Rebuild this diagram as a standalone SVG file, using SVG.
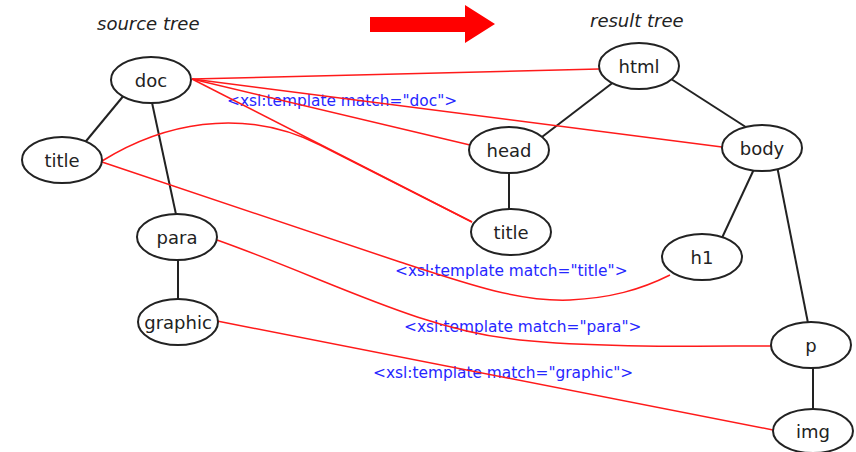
<svg xmlns="http://www.w3.org/2000/svg" width="856" height="452" viewBox="0 0 856 452">
  <style>
    .node ellipse { fill: #fff; stroke: #222; stroke-width: 2; }
    .node text { font-family: "DejaVu Sans", Verdana, sans-serif; font-size: 18px; fill: #222; text-anchor: middle; }
    .edge { stroke: #222; stroke-width: 2; fill: none; }
    .map { stroke: #ff1a1a; stroke-width: 1.5; fill: none; }
    .label { font-family: "DejaVu Sans", Verdana, sans-serif; font-size: 15.4px; fill: #2626ff; }
    .heading { font-family: "DejaVu Sans", Verdana, sans-serif; font-size: 18px; font-style: italic; fill: #222; }
  </style>
  <rect width="856" height="452" fill="#fff"/>

  <!-- headings and transform arrow -->
  <text class="heading" x="97" y="30">source tree</text>
  <text class="heading" x="590" y="27">result tree</text>
  <polygon points="370,17 465,17 465,5 495,24 465,43 465,32 370,32" fill="#f00"/>

  <!-- template labels -->
  <g id="labels">
    <text class="label" x="227" y="106">&lt;xsl:template match="doc"&gt;</text>
    <text class="label" x="395" y="276">&lt;xsl:template match="title"&gt;</text>
    <text class="label" x="404" y="332">&lt;xsl:template match="para"&gt;</text>
    <text class="label" x="373" y="378">&lt;xsl:template match="graphic"&gt;</text>
  </g>

  <!-- tree edges (ends tucked under the node ellipses) and template mappings -->
  <g id="connectors">
    <line class="edge" x1="125" y1="94" x2="82" y2="146"/>
    <line class="edge" x1="151" y1="98" x2="177" y2="219" stroke-width="1.6"/>
    <line class="edge" x1="178" y1="255" x2="178" y2="304"/>
    <line class="edge" x1="615" y1="81" x2="538" y2="140"/>
    <line class="edge" x1="668" y1="77" x2="752" y2="131"/>
    <line class="edge" x1="509" y1="168" x2="509" y2="214"/>
    <line class="edge" x1="755" y1="167" x2="721" y2="240"/>
    <line class="edge" x1="777" y1="166" x2="809" y2="328"/>
    <line class="edge" x1="813" y1="363" x2="813" y2="413"/>

    <line class="map" x1="192" y1="79" x2="599" y2="69"/>
    <line class="map" x1="192" y1="79" x2="470" y2="145"/>
    <line class="map" x1="192" y1="79" x2="722" y2="147"/>
    <line class="map" x1="192" y1="79" x2="472" y2="222"/>
    <path class="map" d="M102,161 C160,125 240,105 320,145 L472,222"/>
    <path class="map" d="M102,162 L400,262 C470,285 520,302 570,300 C610,298 640,290 670,275"/>
    <path class="map" d="M217,240 C330,280 420,330 520,340 C600,348 700,346 771,346"/>
    <line class="map" x1="217" y1="321" x2="773" y2="430"/>
  </g>

  <!-- source tree -->
  <g id="src-doc" class="node"><ellipse cx="151" cy="80" rx="40" ry="23"/><text x="151" y="87">doc</text></g>
  <g id="src-title" class="node"><ellipse cx="62" cy="160" rx="40" ry="23"/><text x="62" y="167">title</text></g>
  <g id="src-para" class="node"><ellipse cx="177" cy="237" rx="40" ry="23"/><text x="177" y="244">para</text></g>
  <g id="src-graphic" class="node"><ellipse cx="178" cy="322" rx="40" ry="23"/><text x="178" y="329">graphic</text></g>

  <!-- result tree -->
  <g id="res-html" class="node"><ellipse cx="639" cy="66" rx="40" ry="23"/><text x="639" y="73">html</text></g>
  <g id="res-head" class="node"><ellipse cx="509" cy="150" rx="40" ry="23"/><text x="509" y="157">head</text></g>
  <g id="res-body" class="node"><ellipse cx="762" cy="148" rx="40" ry="23"/><text x="762" y="155">body</text></g>
  <g id="res-title" class="node"><ellipse cx="511" cy="232" rx="40" ry="23"/><text x="511" y="239">title</text></g>
  <g id="res-h1" class="node"><ellipse cx="702" cy="257" rx="40" ry="23"/><text x="702" y="264">h1</text></g>
  <g id="res-p" class="node"><ellipse cx="811" cy="345" rx="40" ry="23"/><text x="811" y="352">p</text></g>
  <g id="res-img" class="node"><ellipse cx="813" cy="431" rx="40" ry="22"/><text x="813" y="438">img</text></g>
</svg>
